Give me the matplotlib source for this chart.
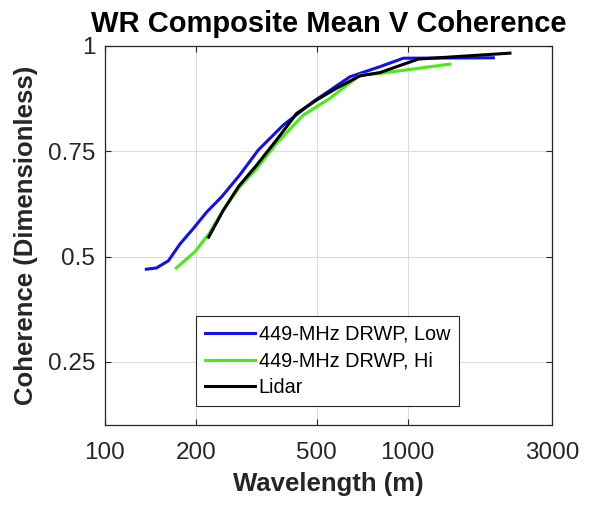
import numpy as np
import matplotlib
matplotlib.use('Agg')
import matplotlib.pyplot as plt
from matplotlib.ticker import FixedLocator, FixedFormatter, NullLocator

plt.rcParams['font.family'] = ['Liberation Sans', 'DejaVu Sans']

# 449-MHz DRWP, low mode
wl_low = [137, 148, 162, 177, 196, 217, 243, 279, 321, 388, 488, 645, 696, 811, 968, 1920]
coh_low = [0.470, 0.473, 0.490, 0.530, 0.567, 0.606, 0.642, 0.694, 0.753, 0.812, 0.868,
           0.927, 0.935, 0.951, 0.971, 0.972]

# 449-MHz DRWP, high mode
wl_hi = [172, 198, 220, 246, 279, 317, 369, 452, 554, 696, 811, 1380]
coh_hi = [0.473, 0.511, 0.553, 0.610, 0.666, 0.709, 0.769, 0.836, 0.876, 0.931, 0.935, 0.957]

# Lidar
wl_lidar = [220, 246, 276, 317, 369, 430, 501, 583, 696, 811, 1085, 2179]
coh_lidar = [0.546, 0.610, 0.666, 0.717, 0.777, 0.840, 0.872, 0.900, 0.929, 0.937, 0.969, 0.983]

xticks = [100, 200, 500, 1000, 3000]
yticks = [0.25, 0.5, 0.75, 1]
ytick_labels = ['0.25', '0.5', '0.75', '1']

fig = plt.figure(figsize=(5.89, 5.05), dpi=100)
ax = fig.add_axes([105 / 589, 1 - 425 / 505, 447 / 589, 379 / 505])

lw = 2.2
ax.semilogx(wl_low, coh_low, color='#1010f0', lw=lw, label='449-MHz DRWP, Low')
ax.semilogx(wl_hi, coh_hi, color='#44ee11', lw=lw, label='449-MHz DRWP, Hi')
ax.semilogx(wl_lidar, coh_lidar, color='black', lw=lw, label='Lidar')

ax.set_xlim(100, 3000)
ax.set_ylim(0.1, 1)
ax.xaxis.set_major_locator(FixedLocator(xticks))
ax.xaxis.set_major_formatter(FixedFormatter([str(t) for t in xticks]))
ax.xaxis.set_minor_locator(NullLocator())
ax.yaxis.set_major_locator(FixedLocator(yticks))
ax.yaxis.set_major_formatter(FixedFormatter(ytick_labels))

ax.grid(True, color='#dcdcdc', lw=0.8)
ax.set_axisbelow(True)
ax.tick_params(direction='in', top=True, right=True, length=4, width=0.8,
               labelsize=17.5, colors='#262626')
ax.tick_params(axis='x', pad=12)
ax.tick_params(axis='y', pad=7)
for s in ax.spines.values():
    s.set_color('#262626')
    s.set_linewidth(0.9)

ax.set_xlabel('Wavelength (m)', fontsize=18.5, fontweight='bold', color='#262626', labelpad=6)
ax.set_ylabel('Coherence (Dimensionless)', fontsize=18.5, fontweight='bold', color='#262626',
              labelpad=7)
ax.set_title('WR Composite Mean V Coherence', fontsize=21, fontweight='bold', pad=10)

leg = ax.legend(loc='lower left', bbox_to_anchor=((196 - 105) / 447, (425 - 406) / 379),
                fontsize=14.3, fancybox=False, framealpha=1, edgecolor='#262626',
                handlelength=2.5, handletextpad=0.2, borderaxespad=0, borderpad=0.45,
                labelspacing=0.38)
leg.get_frame().set_linewidth(0.8)

fig.savefig('out.png', dpi=100)
